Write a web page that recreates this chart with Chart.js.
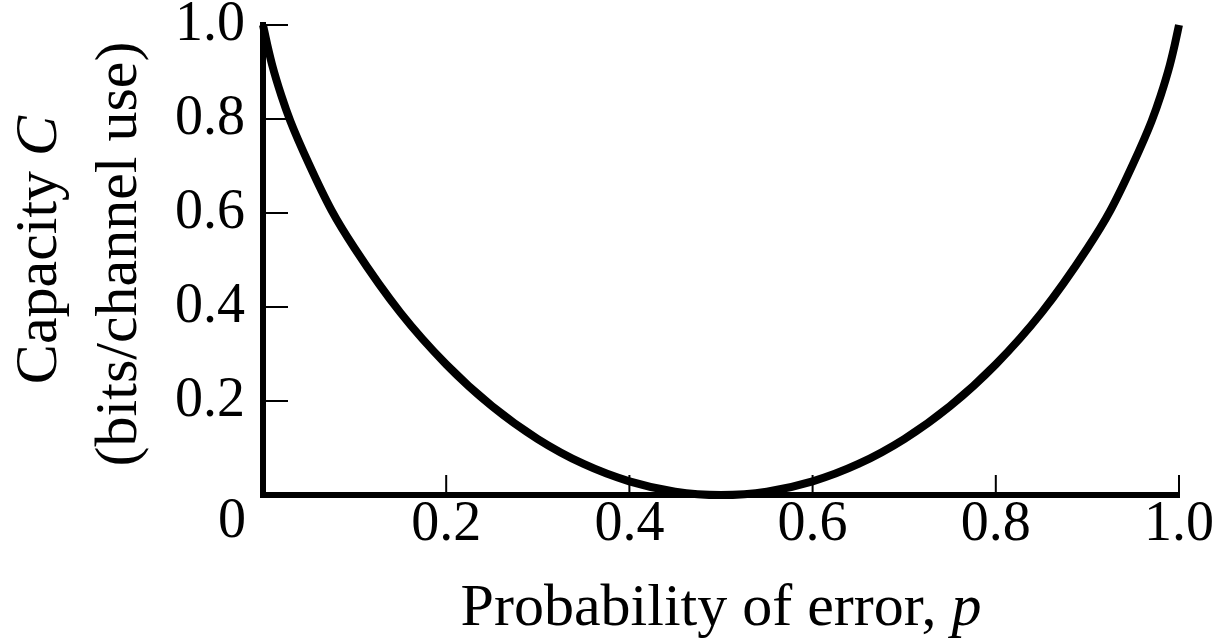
<!DOCTYPE html>
<html>
<head>
<meta charset="utf-8">
<script src="https://cdn.jsdelivr.net/npm/chart.js@4/dist/chart.umd.min.js"></script>
<style>
  html, body { margin: 0; padding: 0; background: #fff; }
  canvas { display: block; }
</style>
</head>
<body>
<canvas id="chart" width="1218" height="644"></canvas>
<script>
// BSC capacity curve
const errorProb = [0, 0.005, 0.01, 0.02, 0.03, 0.05, 0.075, 0.1, 0.15, 0.2, 0.25, 0.3, 0.35, 0.4, 0.45, 0.5,
  0.55, 0.6, 0.65, 0.7, 0.75, 0.8, 0.85, 0.9, 0.925, 0.95, 0.97, 0.98, 0.99, 0.995, 1];
const capacity = [1, 0.955, 0.915, 0.85, 0.795, 0.705, 0.605, 0.525, 0.388, 0.278, 0.189, 0.119, 0.066, 0.029, 0.007, 0,
  0.007, 0.029, 0.066, 0.119, 0.189, 0.278, 0.388, 0.525, 0.605, 0.705, 0.795, 0.85, 0.915, 0.955, 1];
const xTicks = [0, 0.2, 0.4, 0.6, 0.8, 1.0];
const yTicks = [0.2, 0.4, 0.6, 0.8, 1.0];

const FONT = '"Liberation Serif", "Times New Roman", serif';
const tickFont = { family: FONT, size: 56 };

// tick marks point into the plot, not out of it
const innerTicks = {
  id: 'innerTicks',
  afterDraw(chart) {
    const { ctx, chartArea: a, scales: { x, y } } = chart;
    ctx.save();
    ctx.strokeStyle = '#000';
    ctx.lineWidth = 2;
    ctx.beginPath();
    xTicks.filter(v => v > 0).forEach(v => {
      const px = x.getPixelForValue(v);
      ctx.moveTo(px, a.bottom);
      ctx.lineTo(px, a.bottom - 20);
    });
    yTicks.forEach(v => {
      const py = y.getPixelForValue(v);
      ctx.moveTo(a.left, py);
      ctx.lineTo(a.left + 25, py);
    });
    ctx.stroke();
    ctx.restore();
  }
};

// axis titles with italic symbols, plus the shifted origin "0"
function drawMixed(ctx, parts, cx, cy) {
  let total = 0;
  parts.forEach(p => { ctx.font = p[1] + ' 60px ' + FONT; p.w = ctx.measureText(p[0]).width; total += p.w; });
  let xx = cx - total / 2;
  parts.forEach(p => {
    ctx.font = p[1] + ' 60px ' + FONT;
    ctx.fillText(p[0], xx, cy);
    xx += p.w;
  });
}

const titles = {
  id: 'titles',
  afterDraw(chart) {
    const { ctx, chartArea: a, scales: { x } } = chart;
    ctx.save();
    ctx.fillStyle = '#000';
    ctx.textAlign = 'left';
    ctx.textBaseline = 'alphabetic';
    drawMixed(ctx, [['Probability of error, ', 'normal'], ['p', 'italic']], (a.left + a.right) / 2, 625);

    ctx.save();
    ctx.translate(56, 250);
    ctx.rotate(-Math.PI / 2);
    drawMixed(ctx, [['Capacity ', 'normal'], ['C', 'italic']], 0, 0);
    ctx.restore();
    ctx.save();
    ctx.translate(136, 254);
    ctx.rotate(-Math.PI / 2);
    drawMixed(ctx, [['(bits/channel use)', 'normal']], 0, 0);
    ctx.restore();

    ctx.font = '56px ' + FONT;
    ctx.textAlign = 'center';
    ctx.fillText('0', x.getPixelForValue(0) - 31, 537);
    ctx.restore();
  }
};

const points = errorProb.map((p, i) => ({ x: p, y: capacity[i] }));

new Chart(document.getElementById('chart'), {
  type: 'line',
  data: {
    datasets: [{
      data: points,
      borderColor: '#000',
      borderWidth: 8,
      pointRadius: 0,
      cubicInterpolationMode: 'monotone',
      fill: false,
      clip: false
    }]
  },
  options: {
    responsive: false,
    animation: false,
    layout: { padding: { top: 25, right: 39, left: 0, bottom: 0 } },
    plugins: { legend: { display: false }, tooltip: { enabled: false } },
    scales: {
      x: {
        type: 'linear',
        min: 0, max: 1,
        afterBuildTicks: s => { s.ticks = xTicks.map(v => ({ value: v })); },
        afterFit: s => { s.height = 149; s.paddingLeft = 0; s.paddingRight = 0; },
        grid: { drawOnChartArea: false, drawTicks: false },
        border: { display: true, color: '#000', width: 6 },
        ticks: {
          color: '#000', font: tickFont, padding: -3, maxRotation: 0,
          callback: v => v === 0 ? '' : v.toFixed(1)
        }
      },
      y: {
        min: 0, max: 1,
        afterBuildTicks: s => { s.ticks = [0].concat(yTicks).map(v => ({ value: v })); },
        afterFit: s => { s.width = 263; s.paddingTop = 0; s.paddingBottom = 0; },
        grid: { drawOnChartArea: false, drawTicks: false },
        border: { display: true, color: '#000', width: 6 },
        ticks: {
          color: '#000', font: tickFont, padding: 18,
          callback: v => v === 0 ? '' : v.toFixed(1)
        }
      }
    }
  },
  plugins: [innerTicks, titles]
});
</script>
</body>
</html>
